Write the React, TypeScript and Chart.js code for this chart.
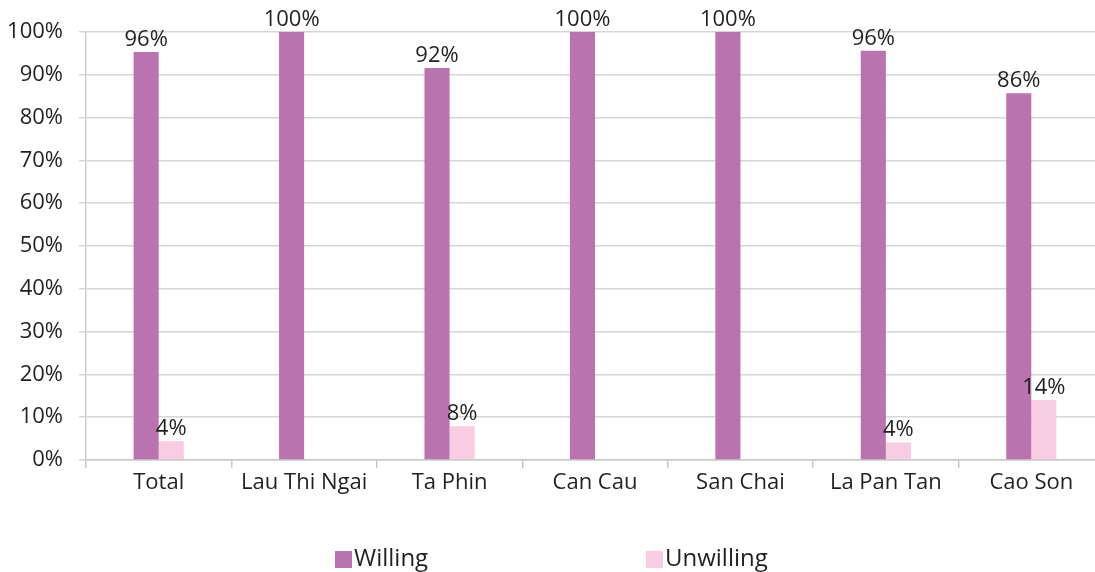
import React, { useEffect, useRef } from "react";
import { Chart, registerables } from "chart.js";

Chart.register(...registerables);

const categories = ["Total", "Lau Thi Ngai", "Ta Phin", "Can Cau", "San Chai", "La Pan Tan", "Cao Son"];
const willing = [95.3, 100, 91.6, 100, 100, 95.6, 85.7];
const unwilling = [4.4, 0, 7.9, 0, 0, 4.1, 14.0];
const willingLabels = ["96%", "100%", "92%", "100%", "100%", "96%", "86%"];
const unwillingLabels = ["4%", "", "8%", "", "", "4%", "14%"];
const yTicks = [0, 10, 20, 30, 40, 50, 60, 70, 80, 90, 100];

const WILLING_COLOR = "#B973AE";
const UNWILLING_COLOR = "#F9CDE1";
const TEXT_COLOR = "#231F20";
const FONT = "'Open Sans', 'Noto Sans', sans-serif";

const valueLabelPlugin = {
  id: "valueLabels",
  afterDatasetsDraw(chart: any) {
    const ctx = chart.ctx;
    const all = [willingLabels, unwillingLabels];
    ctx.save();
    ctx.font = `22px ${FONT}`;
    ctx.fillStyle = TEXT_COLOR;
    ctx.textAlign = "center";
    ctx.textBaseline = "alphabetic";
    chart.data.datasets.forEach((ds: any, di: number) => {
      const meta = chart.getDatasetMeta(di);
      meta.data.forEach((el: any, i: number) => {
        const txt = all[di][i];
        if (!txt) return;
        ctx.fillText(txt, el.x, el.y - 6);
      });
    });
    ctx.restore();
  },
};

const legendPlugin = {
  id: "spreadLegend",
  afterDraw(chart: any) {
    const ctx = chart.ctx;
    const starts = [335, 646];
    const y = 551;
    ctx.save();
    ctx.font = `24px ${FONT}`;
    ctx.textBaseline = "middle";
    ctx.textAlign = "left";
    chart.data.datasets.forEach((ds: any, di: number) => {
      const x = starts[di];
      ctx.fillStyle = ds.backgroundColor;
      ctx.fillRect(x, y, 17, 17);
      ctx.fillStyle = TEXT_COLOR;
      ctx.fillText(ds.label, x + 19, y + 8);
    });
    ctx.restore();
  },
};

export default function App() {
  const ref = useRef<HTMLCanvasElement | null>(null);
  useEffect(() => {
    if (!ref.current) return;
    const chart = new Chart(ref.current, {
      type: "bar",
      data: {
        labels: categories,
        datasets: [
          { label: "Willing", data: willing, backgroundColor: WILLING_COLOR },
          { label: "Unwilling", data: unwilling, backgroundColor: UNWILLING_COLOR },
        ],
      },
      options: {
        responsive: false,
        animation: false,
        devicePixelRatio: 1,
        layout: { padding: { top: 32, left: 0, right: 0, bottom: 0 } },
        datasets: { bar: { categoryPercentage: 0.345, barPercentage: 1 } },
        plugins: { legend: { display: false }, tooltip: { enabled: false } },
        scales: {
          x: {
            offset: true,
            grid: { display: true, drawOnChartArea: false, drawTicks: true, tickLength: 8, color: "#C8C8C8", lineWidth: 1.5, offset: true },
            border: { display: true, color: "#C8C8C8", width: 1.5 },
            ticks: { color: TEXT_COLOR, font: { family: FONT, size: 22 }, padding: 2, maxRotation: 0, autoSkip: false },
            afterFit(scale: any) { scale.height = 112; },
          },
          y: {
            min: 0,
            max: 100,
            afterBuildTicks(scale: any) { scale.ticks = yTicks.map((v) => ({ value: v })); },
            grid: { color: "#D6D6D6", lineWidth: 1.5, tickLength: 7 },
            border: { display: true, color: "#D0D0D0", width: 1.5 },
            ticks: { color: TEXT_COLOR, font: { family: FONT, size: 22 }, padding: 16, callback: (v: any) => `${v}%` },
            afterFit(scale: any) { scale.width = 86; },
          },
        },
      },
      plugins: [valueLabelPlugin, legendPlugin],
    });
    return () => chart.destroy();
  }, []);
  return (
    <div style={{ position: "fixed", left: 0, top: 0, width: 1095, height: 572, overflow: "hidden", background: "#fff" }}>
      <canvas ref={ref} width={1104} height={572} style={{ width: 1104, height: 572, display: "block" }} />
    </div>
  );
}
